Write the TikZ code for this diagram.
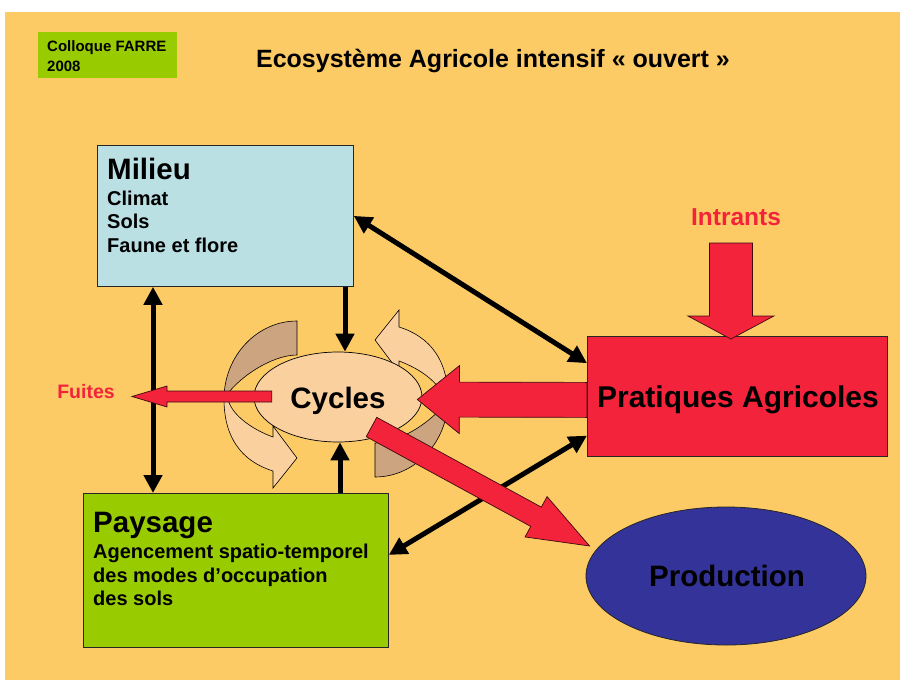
\documentclass[tikz,border=0pt]{standalone}
\usepackage{fontspec}
\setmainfont{Liberation Sans}
\usetikzlibrary{arrows.meta,calc,shapes.geometric}
\definecolor{bgc}{HTML}{FDCB66}
\definecolor{greenc}{HTML}{99CC00}
\definecolor{bluec}{HTML}{BAE0E4}
\definecolor{redc}{HTML}{F2233A}
\definecolor{prodc}{HTML}{333399}
\definecolor{peach}{HTML}{FBD09F}
\definecolor{brownc}{HTML}{CCA47F}
\tikzset{
  box/.style={draw=black!85, line width=0.8pt, inner sep=0pt, anchor=north west},
  bigtxt/.style={font=\fontsize{29.5}{32}\selectfont\bfseries, inner sep=0pt},
  smalltxt/.style={font=\fontsize{20}{22}\selectfont\bfseries, inner sep=0pt},
  twohead/.style={line width=5pt, {Triangle[length=18pt,width=18pt]}-{Triangle[length=18pt,width=18pt]}},
  onehead/.style={line width=5pt, -{Triangle[length=18pt,width=18pt]}},
  redarrow/.style={fill=redc, draw=black!75!redc, line width=0.7pt, line join=miter},
  brownpart/.style={fill=brownc, draw=black, line width=0.6pt},
  peachpart/.style={fill=peach, draw=black, line width=0.6pt},
}
\newcommand\blockarrow[6]{%
  \path let \p1=(#2), \p2=(#3) in
    \pgfextra{%
      \pgfmathsetmacro\baAngT{atan2(\y2-\y1,\x2-\x1)}%
      \pgfmathsetmacro\baLenT{veclen(\x2-\x1,\y2-\y1)}%
      \xdef\baAng{\baAngT}\xdef\baLen{\baLenT}%
      \xdef\baX{\x1}\xdef\baY{\y1}};
  \begin{scope}[shift={(\baX,\baY)}, rotate=\baAng]
    \draw[#1] (0pt,#4pt) -- ({\baLen pt-#6pt},#4pt) -- ({\baLen pt-#6pt},#5pt)
      -- (\baLen pt,0pt) -- ({\baLen pt-#6pt},-#5pt) -- ({\baLen pt-#6pt},-#4pt)
      -- (0pt,-#4pt) -- cycle;
  \end{scope}}
\newcommand\cyclearrowshape{%
  \draw[brownpart] (-39,-78) .. controls (-79,-78) and (-112,-43) .. (-112,0)
     .. controls (-100,-20) and (-65,-44) .. (-39,-44) -- cycle;
  \draw[peachpart] (-112,0) .. controls (-112,38) and (-95,62) .. (-63,72)
     -- (-63,89) -- (-39,59) -- (-63,27) -- (-63,38)
     .. controls (-85,30) and (-105,15) .. (-108,0) -- cycle;
}
\begin{document}
\begin{tikzpicture}[x=1pt,y=-1pt]
\useasboundingbox (0,0) rectangle (900,680);
\fill[white] (0,0) rectangle (900,680);
\fill[bgc] (5,12) rectangle (900,680);

% header
\node[fill=greenc, minimum width=139pt, minimum height=46pt, inner sep=0pt, anchor=north west] (colloque) at (38,32) {};
\node[font=\fontsize{15}{16}\selectfont\bfseries, anchor=base west, inner sep=0pt] (coll1) at (47,51) {Colloque FARRE};
\node[font=\fontsize{15}{16}\selectfont\bfseries, anchor=base west, inner sep=0pt] (coll2) at (47,71) {2008};
\node[font=\fontsize{25}{26}\selectfont\bfseries, anchor=base, inner sep=0pt] (title) at (493,67) {Ecosystème Agricole intensif « ouvert »};

% boxes
\node[box, fill=bluec, minimum width=256pt, minimum height=141pt] (milieu) at (97,145) {};
\node[bigtxt, anchor=base west] (milieuT) at (107,179) {Milieu};
\node[smalltxt, anchor=base west] (m1) at (107,205) {Climat};
\node[smalltxt, anchor=base west] (m2) at (107,228.5) {Sols};
\node[smalltxt, anchor=base west] (m3) at (107,252) {Faune et flore};

\node[box, fill=greenc, minimum width=305pt, minimum height=154pt] (pays) at (83,493) {};
\node[bigtxt, anchor=base west] (paysT) at (93,532) {Paysage};
\node[smalltxt, anchor=base west] (p1) at (93,558) {Agencement spatio-temporel};
\node[smalltxt, anchor=base west] (p2) at (93,582) {des modes d’occupation};
\node[smalltxt, anchor=base west] (p3) at (93,605) {des sols};

\node[box, fill=redc, minimum width=300pt, minimum height=120pt] (prat) at (587,336) {};
\node[font=\fontsize{30}{32}\selectfont\bfseries, anchor=base, inner sep=0pt] (pratT) at (738,407) {Pratiques Agricoles};

\node[ellipse, draw=black!85, line width=0.8pt, fill=prodc, minimum width=280pt, minimum height=138pt, inner sep=0pt] (prod) at (726,576) {};
\node[bigtxt, anchor=base] (prodT) at (727,586) {Production};

% cycle arrows
\begin{scope}[shift={(336,399)}]
  \cyclearrowshape
\end{scope}
\begin{scope}[shift={(336,399)}, rotate=180]
  \cyclearrowshape
\end{scope}
\node[ellipse, draw=black, line width=0.7pt, fill=peach, minimum width=168pt, minimum height=90pt, inner sep=0pt] (cycles) at (338,397) {};
\node[bigtxt, anchor=base] (cyclesT) at (338,408) {Cycles};

% black arrows
\draw[twohead] (milieu.east) -- ($(prat.north west)!0.225!(prat.south west)$);
\draw[twohead] ($(prat.north west)!0.825!(prat.south west)$) -- ($(pays.north east)!0.4!(pays.south east)$);
\draw[twohead] ($(milieu.south west)+(56,0)$) -- ($(pays.north west)+(70,0)$);
\draw[onehead] ($(milieu.south west)+(248,0)$) -- ($(cycles.north)+(7,0)$);
\draw[onehead] ($(pays.north west)+(257,0)$) -- ($(cycles.south)+(2,0)$);

% red block arrows
\coordinate (fuitesStart) at ($(cycles.west)+(18,-0.5)$);
\coordinate (fuitesEnd) at (132,396.5);
\blockarrow{redarrow}{fuitesStart}{fuitesEnd}{5.5}{10.5}{35}
\node[font=\fontsize{19.5}{22}\selectfont\bfseries, text=redc, anchor=base, inner sep=0pt] (fuites) at (86,398) {Fuites};

\coordinate (pcStart) at ($(prat.west)+(0,3.5)$);
\coordinate (pcEnd) at ($(cycles.east)+(-5,2.5)$);
\blockarrow{redarrow}{pcStart}{pcEnd}{17.5}{34}{42}

\coordinate (cpStart) at ($(cycles.center)+(33.5,30)$);
\coordinate (cpEnd) at ($(prod.west)+(4,-30)$);
\blockarrow{redarrow}{cpStart}{cpEnd}{11}{23}{61}

\coordinate (inStart) at ($(prat.north)+(-6.5,-93)$);
\coordinate (inEnd) at ($(prat.north)+(-6.5,3)$);
\blockarrow{redarrow}{inStart}{inEnd}{21.5}{43}{23}
\node[font=\fontsize{24.5}{26}\selectfont\bfseries, text=redc, anchor=base, inner sep=0pt] (intrants) at (736,225) {Intrants};
\end{tikzpicture}
\end{document}
